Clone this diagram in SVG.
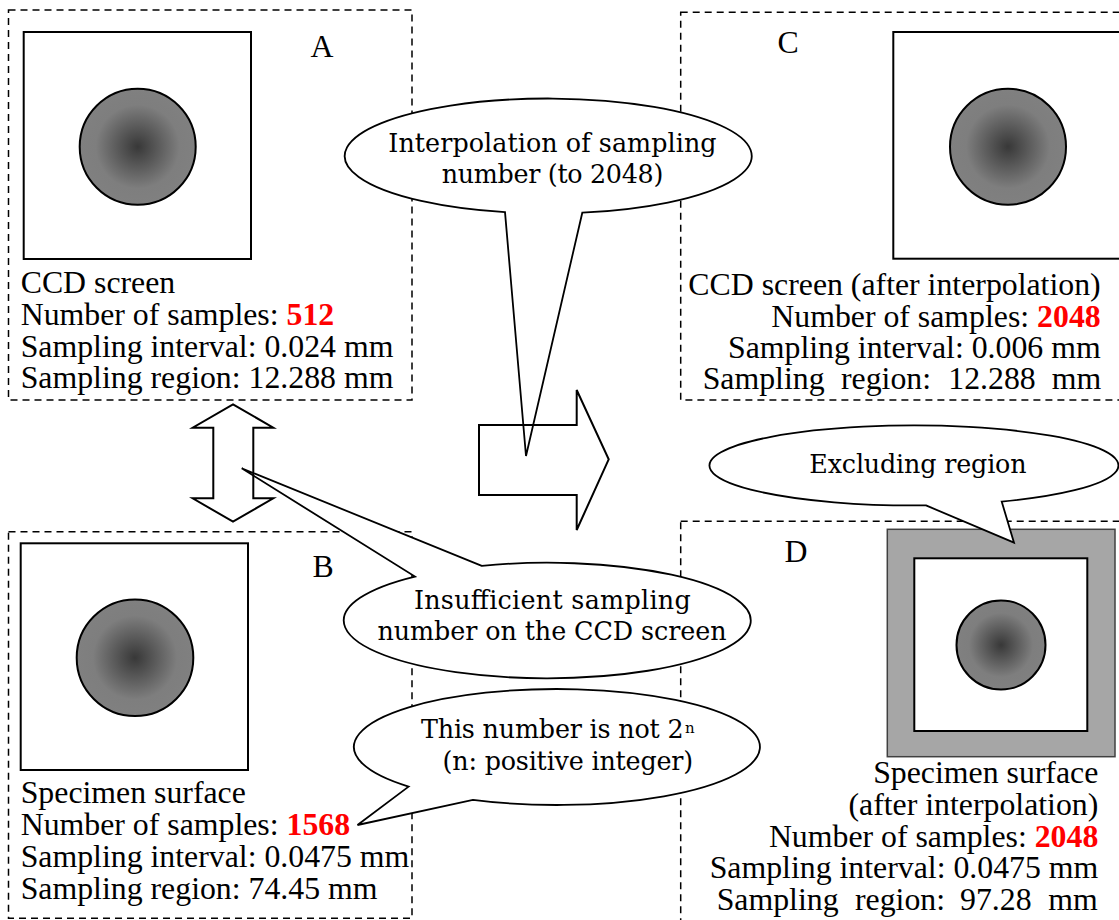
<svg xmlns="http://www.w3.org/2000/svg" width="1119" height="920" viewBox="0 0 1119 920">
<style>
.box{fill:none;stroke:#000;stroke-width:1.5;stroke-dasharray:7,5}
.sq{fill:#fff;stroke:#000;stroke-width:2}
.dot{fill:url(#rg);stroke:#000;stroke-width:2}
.t{font-family:"Liberation Serif","Times New Roman",serif;font-size:31.8px;fill:#000}
.r{fill:#f00;font-weight:bold}
.c{font-family:"DejaVu Serif","Liberation Serif",serif;font-size:25.4px;fill:#000}
.call{fill:#fff;stroke:#000;stroke-width:1.8;stroke-linejoin:miter}
.arr{fill:none;stroke:#000;stroke-width:2;stroke-linejoin:miter}
</style>
<defs>
<radialGradient id="rg" cx="50%" cy="50%" r="50%">
<stop offset="0" stop-color="#383838"/>
<stop offset="0.72" stop-color="#7e7e7e"/>
<stop offset="1" stop-color="#808080"/>
</radialGradient>
</defs>
<rect width="1119" height="920" fill="#fff"/>

<g id="nodeA">
<rect class="box" x="8.5" y="10" width="403.5" height="390"/>
<rect class="sq" x="23.7" y="32" width="227.3" height="227"/>
<circle class="dot" cx="137.7" cy="146.7" r="58"/>
<text class="t" x="322" y="57" text-anchor="middle">A</text>
<text class="t" x="20.7" y="293">CCD screen</text>
<text class="t" x="20.7" y="325">Number of samples: <tspan class="r">512</tspan></text>
<text class="t" x="20.7" y="356.5">Sampling interval: 0.024 mm</text>
<text class="t" x="20.7" y="387.5">Sampling region: 12.288 mm</text>
</g>

<g id="nodeB">
<rect class="box" x="8.5" y="531.7" width="403.5" height="386.5"/>
<rect class="sq" x="20.7" y="543.3" width="227.3" height="226.7"/>
<circle class="dot" cx="135" cy="657.7" r="58.3"/>
<text class="t" x="323" y="576.7" text-anchor="middle">B</text>
<text class="t" x="20.7" y="803">Specimen surface</text>
<text class="t" x="20.7" y="835">Number of samples: <tspan class="r">1568</tspan></text>
<text class="t" x="20.7" y="866.7">Sampling interval: 0.0475 mm</text>
<text class="t" x="20.7" y="899">Sampling region: 74.45 mm</text>
</g>

<g id="nodeC">
<rect class="box" x="680.7" y="12.3" width="460" height="387.7"/>
<rect class="sq" x="893.3" y="32" width="240" height="226.7"/>
<circle class="dot" cx="1008" cy="146.7" r="58"/>
<text class="t" x="788" y="53" text-anchor="middle">C</text>
<text class="t" x="1100.7" y="295" text-anchor="end">CCD screen (after interpolation)</text>
<text class="t" x="1100.7" y="326.5" text-anchor="end">Number of samples: <tspan class="r">2048</tspan></text>
<text class="t" x="1100.7" y="358" text-anchor="end">Sampling interval: 0.006 mm</text>
<text class="t" y="389"><tspan x="702.7">Sampling</tspan><tspan x="841">region:</tspan><tspan x="948.3">12.288</tspan><tspan x="1051.7">mm</tspan></text>
</g>

<g id="nodeD">
<rect class="box" x="680.7" y="521.3" width="460" height="420"/>
<rect x="887.3" y="529.3" width="227.7" height="227.4" fill="#a6a6a6" stroke="#404040" stroke-width="1.5"/>
<rect class="sq" x="914.3" y="558.3" width="173" height="172.7"/>
<circle class="dot" cx="1001" cy="645" r="44.5"/>
<text class="t" x="796" y="561.7" text-anchor="middle">D</text>
<text class="t" x="1098.3" y="783.3" text-anchor="end">Specimen surface</text>
<text class="t" x="1098.3" y="815" text-anchor="end">(after interpolation)</text>
<text class="t" x="1098.3" y="846.7" text-anchor="end">Number of samples: <tspan class="r">2048</tspan></text>
<text class="t" x="1098.3" y="878.3" text-anchor="end">Sampling interval: 0.0475 mm</text>
<text class="t" y="910"><tspan x="716.7">Sampling</tspan><tspan x="855">region:</tspan><tspan x="960">97.28</tspan><tspan x="1048.3">mm</tspan></text>
</g>

<g id="callout-interpolation">
<path class="call" d="M505,212.2 L526,456 L582.3,212.7 A203.5,57.5 0 1 0 505,212.2 Z"/>
<text class="c" x="388.3" y="151.7" textLength="328.3">Interpolation of sampling</text>
<text class="c" x="441.7" y="183.3" textLength="221.6">number (to 2048)</text>
</g>

<g id="callout-insufficient">
<path class="call" d="M481.8,565.8 L241.7,468.3 L415,576.6 A203.5,57.8 0 1 0 481.8,565.8 Z"/>
<text class="c" x="413.9" y="609" textLength="276.8">Insufficient sampling</text>
<text class="c" x="377.5" y="640" textLength="349">number on the CCD screen</text>
</g>

<g id="callout-power">
<path class="call" d="M408.6,786.6 L357.5,825 L472.9,799.8 A203,58 0 1 0 408.6,786.6 Z"/>
<text class="c" x="421" y="738.3" textLength="262.6">This number is not 2</text>
<text class="c" x="685" y="733" style="font-size:15px">n</text>
<text class="c" x="442.5" y="770" textLength="250.7">(n: positive integer)</text>
</g>

<g id="callout-excluding">
<path class="call" d="M926,505.4 L1014,542.7 L1001.7,501.6 A204.5,40 0 1 0 926,505.4 Z"/>
<text class="c" x="809.3" y="472.7" textLength="217.3">Excluding region</text>
</g>

<g id="connectors">
<path class="arr" d="M233,404.3 L273.3,427.7 L253.3,427.7 L253.3,498.3 L273.3,498.3 L233,521.7 L192.7,498.3 L213.3,498.3 L213.3,427.7 L192.7,427.7 Z"/>
<path class="arr" d="M479,425 L576.7,425 L576.7,390 L608.7,459.3 L576.7,530 L576.7,495 L479,495 Z"/>
</g>
</svg>
